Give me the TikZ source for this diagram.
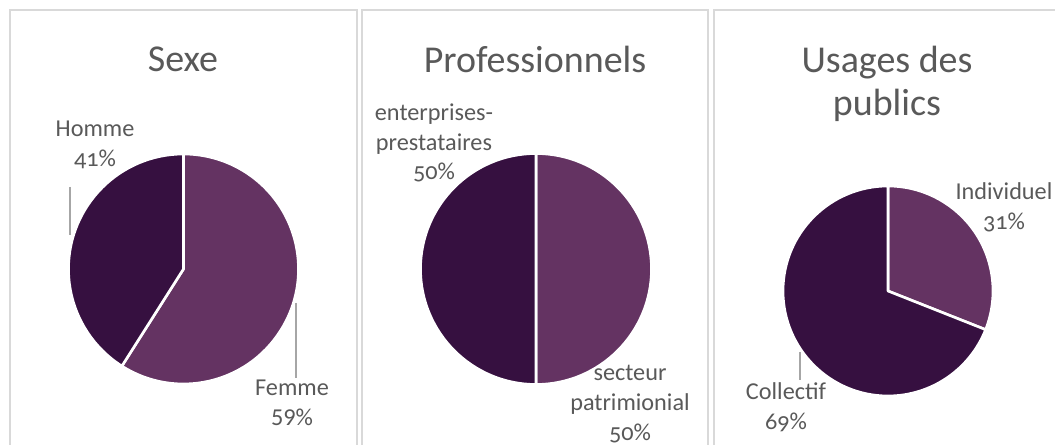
\documentclass[tikz,border=0pt]{standalone}
\usepackage{fontspec}
\setmainfont{Carlito}[Numbers=OldStyle]
\usetikzlibrary{positioning}
\definecolor{pieDark}{RGB}{54,16,64}
\definecolor{pieLight}{RGB}{100,51,98}
\definecolor{txtGray}{RGB}{89,89,89}
\definecolor{frameGray}{RGB}{217,217,217}
\definecolor{leadGray}{RGB}{166,166,166}
\tikzstyle{title} = [text=txtGray, align=center, inner sep=0pt, font=\fontsize{21.6}{24.5}\selectfont]
\tikzstyle{lbl} = [text=txtGray, align=center, inner sep=0pt, font=\fontsize{13.8}{17}\selectfont]
\tikzstyle{slice} = [draw=white, line width=1.5pt, line join=round]
\tikzstyle{leader} = [draw=leadGray, line width=0.8pt]
\tikzstyle{panel} = [draw=frameGray, line width=0.8pt]

\begin{document}
\begin{tikzpicture}[x=0.02cm, y=0.02cm]
	\useasboundingbox (0,0) rectangle (1055,445);
	\clip (0,0) rectangle (1055,445);
	\fill[white] (0,0) rectangle (1055,445);

	% panels
	\draw[panel] (10,-10) |- (357,435) -- (357,-10);
	\draw[panel] (362,-10) |- (708,435) -- (708,-10);
	\draw[panel] (714,-10) |- (1062,435) -- (1062,-10);

	% Sexe
	\coordinate (c1) at (183.5,176);
	\path[slice, fill=pieLight] (c1) -- ++(237.6:115) arc[start angle=237.6, end angle=450, radius=115] -- cycle;
	\path[slice, fill=pieDark] (c1) -- ++(90:115) arc[start angle=90, end angle=237.6, radius=115] -- cycle;
	\node[title] (t1) at (183,386) {Sexe};
	\node[lbl] (homme) at (95,300) {Homme\\41\%};
	\node[lbl] (femme) at (292,42) {Femme\\{\addfontfeature{Numbers=Lining}59\%}};
	\coordinate (h1) at (70,258);
	\coordinate (h2) at (70,210);
	\coordinate (f1) at (296,142);
	\coordinate (f2) at (296,67);
	\draw[leader] (h1) -- (h2);
	\draw[leader] (f1) -- (f2);

	% Professionnels
	\coordinate (c2) at (536,176);
	\path[slice, fill=pieLight] (c2) -- ++(-90:115.5) arc[start angle=-90, end angle=90, radius=115.5] -- cycle;
	\path[slice, fill=pieDark] (c2) -- ++(90:115.5) arc[start angle=90, end angle=270, radius=115.5] -- cycle;
	\node[title] (t2) at (535,386) {Professionnels};
	\node[lbl] (entr) at (434,302) {enterprises-\\prestataires\\50\%};
	\node[lbl] (sect) at (630,41) {secteur\\patrimionial\\50\%};

	% Usages des publics
	\coordinate (c3) at (888,154);
	\path[slice, fill=pieLight] (c3) -- ++(-21.6:105) arc[start angle=-21.6, end angle=90, radius=105] -- cycle;
	\path[slice, fill=pieDark] (c3) -- ++(90:105) arc[start angle=90, end angle=338.4, radius=105] -- cycle;
	\node[title] (t3) at (887,361.5) {Usages des\\publics};
	\node[lbl] (indiv) at (1004,237.5) {Individuel\\31\%};
	\node[lbl] (coll) at (786,38) {Collectif\\69\%};
	\coordinate (k1) at (800,93);
	\coordinate (k2) at (800,65);
	\draw[leader] (k1) -- (k2);
\end{tikzpicture}
\end{document}
